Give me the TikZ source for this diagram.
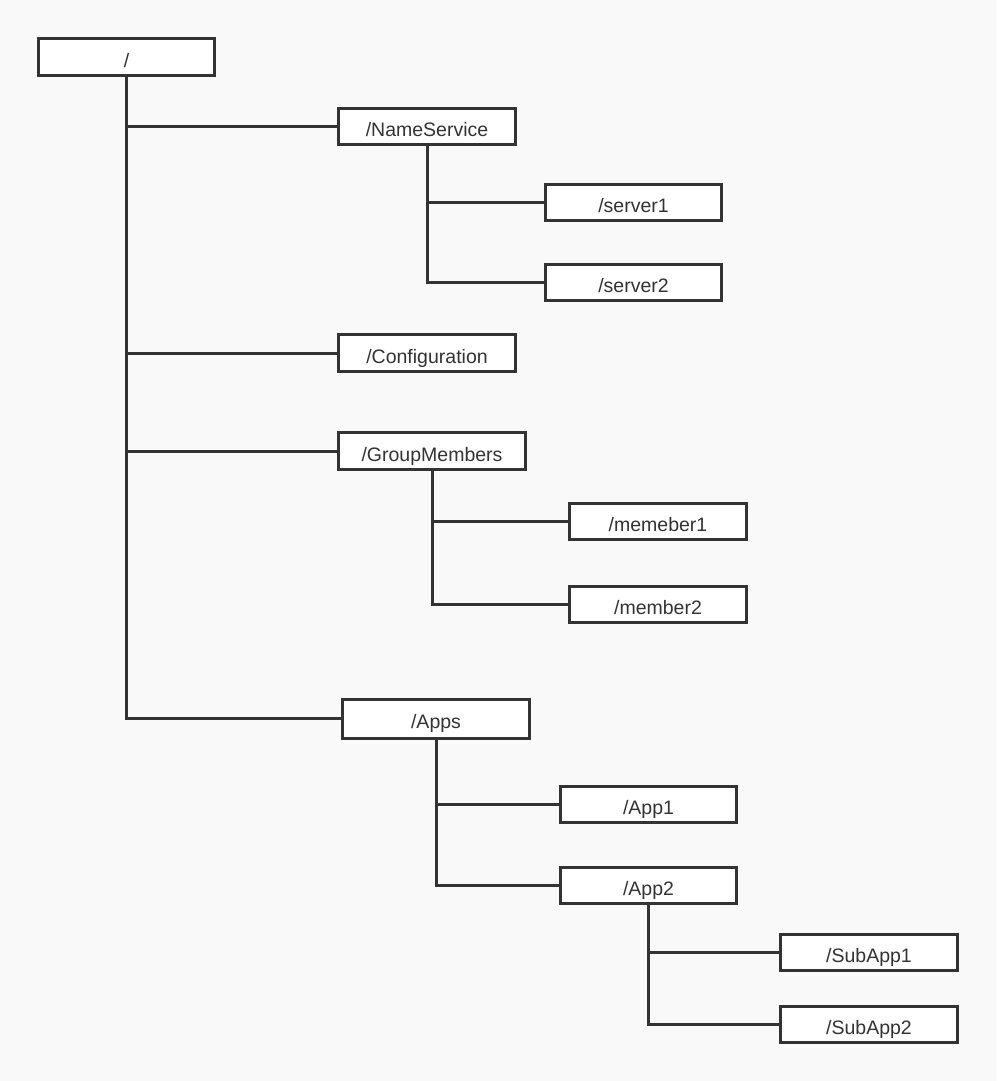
\documentclass[tikz,border=0pt]{standalone}
\usepackage{fontspec}
\setmainfont{Liberation Sans}
\definecolor{bg}{HTML}{F9F9F9}
\definecolor{ln}{HTML}{333333}
\begin{document}
\begin{tikzpicture}[x=1pt,y=-1pt,
  box/.style={draw=ln, line width=3pt, fill=white, rectangle, inner sep=0pt,
    text=ln, font=\fontsize{19.5}{22}\selectfont, text height=20pt, text depth=0pt},
  conn/.style={draw=ln, line width=3pt}]
\fill[bg] (0,0) rectangle (996,1081);
\useasboundingbox (0,0) rectangle (996,1081);
% nodes
\node[box, minimum width=176pt, minimum height=37pt] (root) at (126.5,57) {/};
\node[box, minimum width=177pt, minimum height=36pt] (ns) at (427,126.5) {/NameService};
\node[box, minimum width=176pt, minimum height=36pt] (s1) at (633.5,202.5) {/server1};
\node[box, minimum width=176pt, minimum height=36pt] (s2) at (633.5,282.5) {/server2};
\node[box, minimum width=177pt, minimum height=37pt] (conf) at (427,353) {/Configuration};
\node[box, minimum width=187pt, minimum height=37pt] (gm) at (432,451) {/GroupMembers};
\node[box, minimum width=177pt, minimum height=36pt] (m1) at (658,521.5) {/memeber1};
\node[box, minimum width=177pt, minimum height=36pt] (m2) at (658,604.5) {/member2};
\node[box, minimum width=187pt, minimum height=39pt] (apps) at (436,718.5) {/Apps};
\node[box, minimum width=176pt, minimum height=36pt] (app1) at (648.5,804.5) {/App1};
\node[box, minimum width=176pt, minimum height=36pt] (app2) at (648.5,885) {/App2};
\node[box, minimum width=177pt, minimum height=36pt] (sub1) at (869,952.5) {/SubApp1};
\node[box, minimum width=177pt, minimum height=36pt] (sub2) at (869,1024.5) {/SubApp2};
% connectors
\draw[conn] (root.south) |- (ns.west);
\draw[conn] (root.south) |- (conf.west);
\draw[conn] (root.south) |- (gm.west);
\draw[conn] (root.south) |- (apps.west);
\draw[conn] (ns.south) |- (s1.west);
\draw[conn] (ns.south) |- (s2.west);
\draw[conn] (gm.south) |- (m1.west);
\draw[conn] (gm.south) |- (m2.west);
\draw[conn] (apps.south) |- (app1.west);
\draw[conn] (apps.south) |- (app2.west);
\draw[conn] (app2.south) |- (sub1.west);
\draw[conn] (app2.south) |- (sub2.west);
\end{tikzpicture}
\end{document}
